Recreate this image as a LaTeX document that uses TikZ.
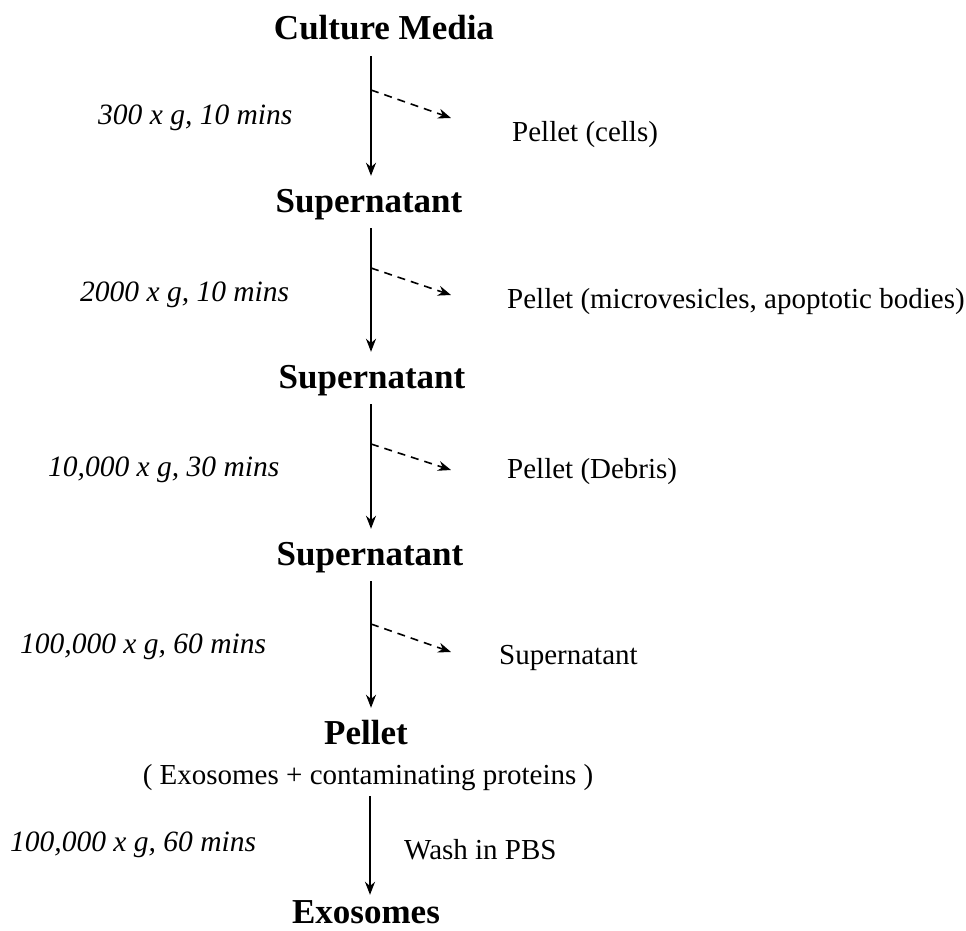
\documentclass[tikz,border=0pt]{standalone}
\usepackage{fontspec}
\setmainfont{Liberation Serif}
\usepackage{tikz}
\usetikzlibrary{positioning, arrows.meta}

\tikzset{
  title/.style={font=\fontsize{35}{42}\selectfont\bfseries, inner sep=0pt, anchor=base, text height=24pt, text depth=8pt},
  note/.style={font=\fontsize{29}{35}\selectfont, inner sep=0pt, anchor=west},
  speed/.style={font=\fontsize{29.5}{35}\selectfont\itshape, inner sep=0pt, anchor=west},
  spin/.style={-{Stealth[length=13pt,width=10pt]}, line width=1.7pt, shorten <=8pt, shorten >=12pt},
  drop/.style={-{Stealth[length=13pt,width=10pt]}, line width=1.6pt, dash pattern=on 8pt off 6pt}
}

\begin{document}
\begin{tikzpicture}[x=1pt, y=-1pt]
   \useasboundingbox (0,0) rectangle (966,931);
   \coordinate (axis) at (371,0);
   \node[title] (s_0) at (384,40)  {Culture Media};
   \node[title] (s_1) at (369,212) {Supernatant};
   \node[title] (s_2) at (372,388) {Supernatant};
   \node[title] (s_3) at (370,565) {Supernatant};
   \node[title] (p_1) at (366,744) {Pellet};
   \node[font=\fontsize{29}{35}\selectfont, inner sep=0pt, anchor=base, text height=20pt, text depth=6pt] (p_2) at (368,784) {( Exosomes + contaminating proteins )};
   \node[title] (e_1) at (366,923) {Exosomes};
   % spin speeds
   \node[speed] (g_1) at (98,118)  {300 x g, 10 mins};
   \node[speed] (g_2) at (80,295)  {2000 x g, 10 mins};
   \node[speed] (g_3) at (48,470)  {10,000 x g, 30 mins};
   \node[speed] (g_4) at (20,647)  {100,000 x g, 60 mins};
   \node[speed] (g_5) at (10,845)  {100,000 x g, 60 mins};
   % what is left behind
   \node[note] (r_1) at (512,135) {Pellet (cells)};
   \node[note] (r_2) at (507,302) {Pellet (microvesicles, apoptotic bodies)};
   \node[note] (r_3) at (507,472) {Pellet (Debris)};
   \node[note] (r_4) at (499,658) {Supernatant};
   \node[note] (r_5) at (404,850) {Wash in PBS};
   % main flow
   \draw[spin] (s_0.south -| axis) -- (s_1.north -| axis);
   \draw[spin] (s_1.south -| axis) -- (s_2.north -| axis);
   \draw[spin] (s_2.south -| axis) -- (s_3.north -| axis);
   \draw[spin] (s_3.south -| axis) -- (p_1.north -| axis);
   \draw[spin, shorten <=6pt, shorten >=4pt] ([xshift=-1pt]p_2.south -| axis) -- ([xshift=-1pt]e_1.north -| axis);
   % side products
   \coordinate (d_1) at (371,90);  \coordinate (t_1) at (451,118);
   \coordinate (d_2) at (371,268); \coordinate (t_2) at (451,295);
   \coordinate (d_3) at (371,444); \coordinate (t_3) at (451,470);
   \coordinate (d_4) at (371,624); \coordinate (t_4) at (451,652);
   \foreach \i in {1,...,4}
      \draw[drop] (d_\i) -- (t_\i);
\end{tikzpicture}
\end{document}
